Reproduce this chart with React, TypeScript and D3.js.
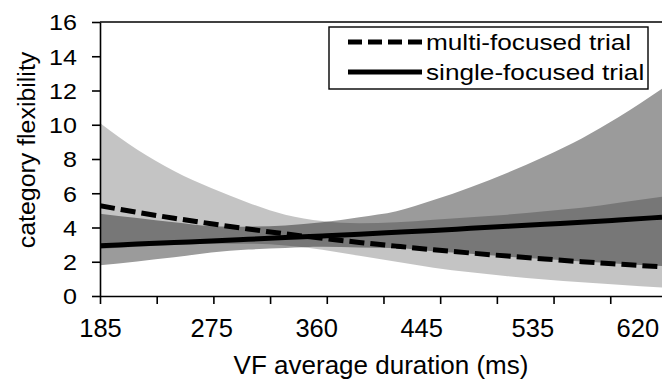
import React, { useRef, useEffect } from 'react';
import * as d3 from 'd3';

// VF average duration (ms) sample points
const durations = [185, 215, 245, 275, 305, 335, 365, 395, 425, 455, 485, 515, 545, 575, 605, 640];

// multi-focused trial: estimate and confidence band
const multiLine = [5.27, 4.89, 4.54, 4.22, 3.91, 3.63, 3.37, 3.13, 2.91, 2.7, 2.51, 2.33, 2.16, 2.0, 1.86, 1.7];
const multiUpper = [10.1, 8.55, 7.3, 6.3, 5.45, 4.75, 4.38, 4.25, 4.3, 4.45, 4.6, 4.75, 4.95, 5.15, 5.45, 5.8];
const multiLower = [2.75, 2.88, 2.98, 3.05, 3.05, 2.95, 2.7, 2.35, 2.0, 1.65, 1.38, 1.15, 0.96, 0.8, 0.66, 0.5];

// single-focused trial: estimate and confidence band
const singleLine = [2.94, 3.03, 3.12, 3.21, 3.31, 3.41, 3.51, 3.61, 3.72, 3.83, 3.95, 4.07, 4.19, 4.31, 4.44, 4.6];
const singleUpper = [4.8, 4.55, 4.3, 4.08, 4.05, 4.12, 4.3, 4.6, 4.95, 5.6, 6.35, 7.2, 8.15, 9.2, 10.45, 12.1];
const singleLower = [1.8, 2.02, 2.26, 2.54, 2.71, 2.8, 2.87, 2.83, 2.8, 2.61, 2.46, 2.3, 2.16, 2.01, 1.89, 1.75];

const xLabels = [185, 275, 360, 445, 535, 620];
const yTicks = [0, 2, 4, 6, 8, 10, 12, 14, 16];
const xTickStep = 45.9;

const FONT = '"Liberation Sans", Arial, sans-serif';

const App: React.FC = () => {
  const svgRef = useRef<SVGSVGElement | null>(null);
  const width = 662;
  const height = 381;

  useEffect(() => {
    const svg = d3.select(svgRef.current);
    svg.selectAll('*').remove();

    const x = d3.scaleLinear().domain([185, 640]).range([100, 662]);
    const y = d3.scaleLinear().domain([0, 16]).range([296, 22]);

    const defs = svg.append('defs');
    defs.append('clipPath').attr('id', 'plotClip')
      .append('rect').attr('x', 100).attr('y', 22).attr('width', 562).attr('height', 274);

    const idx = durations.map((_, i) => i);
    const band = (lo: number[], hi: number[]) =>
      d3.area<number>()
        .x(i => x(durations[i]))
        .y0(i => y(lo[i]))
        .y1(i => y(hi[i]))
        .curve(d3.curveMonotoneX)(idx);
    const line = (v: number[]) =>
      d3.line<number>()
        .x(i => x(durations[i]))
        .y(i => y(v[i]))
        .curve(d3.curveMonotoneX)(idx);

    const plot = svg.append('g').attr('clip-path', 'url(#plotClip)');
    plot.append('path').attr('d', band(singleLower, singleUpper)).attr('fill', '#9b9b9b');
    // multi band is translucent so the overlap darkens
    plot.append('path').attr('d', band(multiLower, multiUpper)).attr('fill', '#000').attr('fill-opacity', 0.23);
    plot.append('path').attr('d', line(singleLine)).attr('fill', 'none').attr('stroke', '#000').attr('stroke-width', 5);
    plot.append('path').attr('d', line(multiLine)).attr('fill', 'none').attr('stroke', '#000').attr('stroke-width', 5)
      .attr('stroke-dasharray', '15,6');

    // top border
    svg.append('line').attr('x1', 100).attr('x2', 662).attr('y1', 22).attr('y2', 22)
      .attr('stroke', '#000').attr('stroke-width', 1.3);

    // y axis
    const yAxis = svg.append('g')
      .attr('transform', 'translate(100,0)')
      .call(d3.axisLeft(y).tickValues(yTicks).tickSize(8).tickSizeOuter(0).tickFormat(d3.format('d')));
    yAxis.selectAll('path, line').attr('stroke', '#000').attr('stroke-width', 1.6);
    yAxis.selectAll('text')
      .attr('font-family', FONT)
      .attr('font-size', 22)
      .attr('fill', '#000')
      .attr('x', -23 / 1.14)
      .attr('dy', '0.36em')
      .attr('transform', 'scale(1.14,1)');

    // x axis: tick marks
    const xAxis = svg.append('g')
      .attr('transform', 'translate(0,296)')
      .call(d3.axisBottom(x).tickValues(d3.range(185, 662, xTickStep)).tickSize(8).tickSizeOuter(0).tickFormat(() => ''));
    xAxis.selectAll('path, line').attr('stroke', '#000').attr('stroke-width', 1.6);

    // x axis: labels
    const xLab = svg.append('g')
      .attr('transform', 'translate(0,296)')
      .call(d3.axisBottom(x).tickValues(xLabels).tickSize(0).tickPadding(0).tickFormat(d3.format('d')));
    xLab.select('.domain').remove();
    xLab.selectAll('text')
      .attr('font-family', FONT)
      .attr('font-size', 25.5)
      .attr('fill', '#000')
      .attr('y', 41)
      .attr('dy', 0);

    // axis titles
    svg.append('text')
      .attr('transform', 'translate(381,374)')
      .attr('text-anchor', 'middle')
      .attr('font-family', FONT)
      .attr('font-size', 26)
      .text('VF average duration (ms)');
    svg.append('text')
      .attr('transform', 'translate(35,150) rotate(-90) scale(1.06,1)')
      .attr('text-anchor', 'middle')
      .attr('font-family', FONT)
      .attr('font-size', 23.5)
      .text('category flexibility');

    // legend
    const lg = svg.append('g');
    lg.append('rect').attr('x', 329).attr('y', 27).attr('width', 319).attr('height', 62)
      .attr('fill', '#fff').attr('stroke', '#000').attr('stroke-width', 1.4);
    const entries = [
      { label: 'multi-focused trial', dash: '14,6', yy: 42 },
      { label: 'single-focused trial', dash: null, yy: 72 },
    ];
    entries.forEach(e => {
      const l = lg.append('line').attr('x1', 348).attr('x2', 422).attr('y1', e.yy).attr('y2', e.yy)
        .attr('stroke', '#000').attr('stroke-width', 5);
      if (e.dash) l.attr('stroke-dasharray', e.dash);
      lg.append('text')
        .attr('transform', `translate(426,${e.yy + 7.5}) scale(1.19,1)`)
        .attr('font-family', FONT)
        .attr('font-size', 22)
        .text(e.label);
    });
  }, []);

  return (
    <svg
      ref={svgRef}
      width={width}
      height={height}
      style={{ position: 'absolute', left: 0, top: 0, background: '#fff' }}
    />
  );
};

export default App;
